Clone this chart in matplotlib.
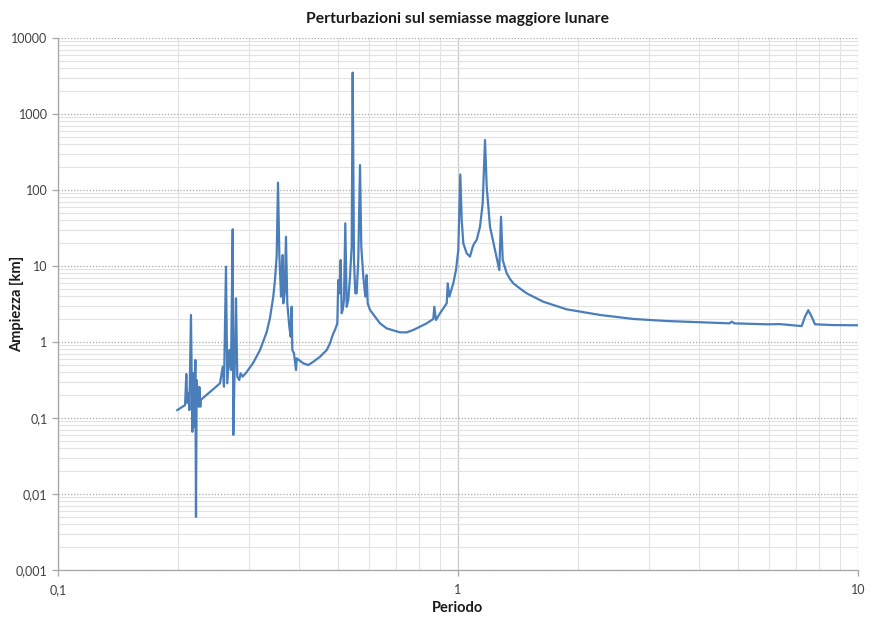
import matplotlib
matplotlib.use("Agg")
import matplotlib.pyplot as plt
from matplotlib.ticker import FixedLocator, FixedFormatter, LogLocator, NullFormatter

# ------------------------------------------
# Data (period, amplitude in km)
# ------------------------------------------

periodo = [
    0.1987, 0.2078, 0.2093, 0.2105, 0.2122, 0.2130, 0.2150, 0.2167, 0.2179, 0.2192,
    0.2205, 0.2213, 0.2222, 0.2248, 0.2256, 0.2269, 0.2274, 0.2541, 0.2581, 0.2600,
    0.2630, 0.2650, 0.2681, 0.2707, 0.2734, 0.2743, 0.2770, 0.2786, 0.2807, 0.2839,
    0.2862, 0.2895, 0.2963, 0.3077, 0.3199, 0.3325, 0.3388, 0.3453, 0.3487, 0.3521,
    0.3548, 0.3575, 0.3610, 0.3646, 0.3658, 0.3688, 0.3715, 0.3743, 0.3787, 0.3817,
    0.3839, 0.3853, 0.3890, 0.3936, 0.3952, 0.4105, 0.4225, 0.4348, 0.4519, 0.4697,
    0.4786, 0.4878, 0.4926, 0.4992, 0.5020, 0.5049, 0.5090, 0.5119, 0.5149, 0.5188,
    0.5227, 0.5269, 0.5318, 0.5370, 0.5423, 0.5454, 0.5495, 0.5537, 0.5581, 0.5633,
    0.5689, 0.5731, 0.5798, 0.5865, 0.5912, 0.5946, 0.6026, 0.6202, 0.6383, 0.6634,
    0.7161, 0.7443, 0.7731, 0.8035, 0.8351, 0.8674, 0.8725, 0.8810, 0.9016, 0.9371,
    0.9426, 0.9513, 0.9733, 0.9886, 1.0017, 1.0133, 1.0215, 1.0310, 1.0513, 1.0715,
    1.0883, 1.0984, 1.1137, 1.1350, 1.1528, 1.1682, 1.1797, 1.2023, 1.2374, 1.2685,
    1.2810, 1.2936, 1.3237, 1.3490, 1.3749, 1.4290, 1.4851, 1.6339, 1.8697, 2.2646,
    2.7435, 3.3250, 4.0272, 4.7697, 4.8361, 4.9091, 5.9116, 6.3826, 7.2311, 7.3697,
    7.5109, 7.6597, 7.8068, 8.6746, 10.0,
]

ampiezza = [
    0.127, 0.148, 0.379, 0.158, 0.213, 0.127, 2.27, 0.066, 0.391, 0.077,
    0.58, 0.005, 0.316, 0.141, 0.256, 0.141, 0.173, 0.286, 0.473, 0.258,
    9.79, 0.286, 0.785, 0.428, 30.4, 0.060, 0.710, 3.76, 0.350, 0.316,
    0.388, 0.350, 0.403, 0.534, 0.785, 1.354, 2.07, 3.95, 6.54, 13.3,
    125.0, 14.7, 3.95, 13.95, 3.23, 4.37, 24.3, 3.23, 1.59, 1.17,
    2.91, 0.785, 0.71, 0.428, 0.61, 0.524, 0.498, 0.55, 0.64, 0.785,
    0.96, 1.30, 1.44, 1.76, 6.54, 4.37, 12.0, 2.39, 2.64, 3.57,
    36.5, 2.91, 3.57, 7.23, 17.9, 3500.0, 12.0, 4.37, 4.37, 12.0,
    213.0, 17.9, 7.23, 3.95, 7.61, 3.23, 2.64, 2.15, 1.76, 1.51,
    1.34, 1.34, 1.44, 1.59, 1.76, 2.01, 2.91, 1.95, 2.39, 3.23,
    5.92, 3.95, 5.92, 8.86, 16.2, 160.0, 40.3, 19.9, 14.7, 13.3,
    17.9, 19.9, 22.0, 32.9, 66.8, 455.0, 110.0, 32.9, 16.2, 8.86,
    44.5, 12.0, 8.01, 6.74, 5.92, 5.06, 4.37, 3.39, 2.69, 2.27,
    2.01, 1.89, 1.82, 1.76, 1.85, 1.76, 1.71, 1.72, 1.62, 2.15,
    2.62, 2.15, 1.71, 1.67, 1.66,
]

x_ticks = [0.1, 1, 10]
x_labels = ['0,1', '1', '10']
y_ticks = [0.001, 0.01, 0.1, 1, 10, 100, 1000, 10000]
y_labels = ['0,001', '0,01', '0,1', '1', '10', '100', '1000', '10000']

# ------------------------------------------
# Plot
# ------------------------------------------

plt.rcParams['font.family'] = ['Lato', 'DejaVu Sans']

fig = plt.figure(figsize = (8.8, 6.21), dpi = 100)
ax = fig.add_axes([0.0659, 0.0821, 0.9091, 0.8567])

ax.plot(periodo, ampiezza, color = '#4a7ebb', linewidth = 1.6)

ax.set_xscale('log')
ax.set_yscale('log')
ax.set_xlim(0.1, 10)
ax.set_ylim(0.001, 10000)

ax.xaxis.set_major_locator(FixedLocator(x_ticks))
ax.xaxis.set_major_formatter(FixedFormatter(x_labels))
ax.yaxis.set_major_locator(FixedLocator(y_ticks))
ax.yaxis.set_major_formatter(FixedFormatter(y_labels))
ax.xaxis.set_minor_locator(LogLocator(base = 10, subs = range(2, 10), numticks = 20))
ax.yaxis.set_minor_locator(LogLocator(base = 10, subs = range(2, 10), numticks = 20))
ax.xaxis.set_minor_formatter(NullFormatter())
ax.yaxis.set_minor_formatter(NullFormatter())

# grid: dotted major on y, light solid minor
ax.grid(True, which = 'minor', axis = 'both', color = '#e2e2e2', linewidth = 0.8, linestyle = '-')
ax.grid(True, which = 'major', axis = 'y', color = '#a6a6a6', linewidth = 0.9, linestyle = (0, (1, 1.5)))
ax.grid(True, which = 'major', axis = 'x', color = '#c8c8c8', linewidth = 0.9, linestyle = '-')
ax.set_axisbelow(True)

for side in ['top', 'right']:
    ax.spines[side].set_visible(False)
for side in ['left', 'bottom']:
    ax.spines[side].set_color('#a6a6a6')
    ax.spines[side].set_linewidth(0.9)

ax.tick_params(which = 'major', direction = 'out', length = 4, width = 0.9, color = '#a6a6a6',
               labelsize = 9, labelcolor = '#404040')
ax.tick_params(which = 'minor', length = 0)
ax.tick_params(axis = 'x', pad = 6)

ax.set_title('Perturbazioni sul semiasse maggiore lunare', fontsize = 11.3, fontweight = 'bold',
             color = '#1a1a1a', pad = 11)
ax.set_xlabel('Periodo', fontsize = 10.5, fontweight = 'bold', color = '#1a1a1a', labelpad = 4)
ax.set_ylabel('Ampiezza [km]', fontsize = 10.5, fontweight = 'bold', color = '#1a1a1a')
ax.yaxis.set_label_coords(-0.042, 0.5)

fig.savefig('out.png', dpi = 100, facecolor = 'white')
plt.close()
